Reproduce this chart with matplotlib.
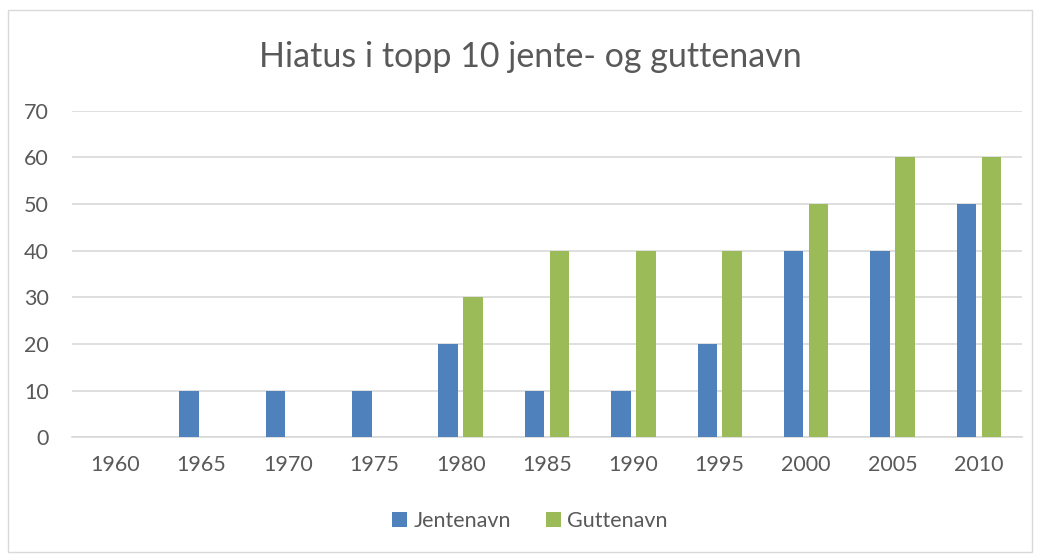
import numpy as np
import matplotlib.pyplot as plt
from matplotlib.patches import Rectangle

years = ['1960', '1965', '1970', '1975', '1980', '1985', '1990', '1995', '2000', '2005', '2010']
jentenavn = [0, 10, 10, 10, 20, 10, 10, 20, 40, 40, 50]
guttenavn = [0, 0, 0, 0, 30, 40, 40, 40, 50, 60, 60]

plt.rcParams['font.family'] = ['Lato', 'DejaVu Sans']
text_col = '#595959'
grid_col = '#D9D9D9'

fig = plt.figure(figsize=(10.4, 5.54), dpi=100)
W, H = 1040, 554
ax = fig.add_axes([72 / W, 1 - 437.3 / H, (1022 - 72) / W, (437.3 - 110.7) / H])

x = np.arange(len(years))
off = 0.144
bw = 0.225
ax.bar(x - off, jentenavn, bw, color='#4F81BD', label='Jentenavn', zorder=3)
ax.bar(x + off, guttenavn, bw, color='#9BBB59', label='Guttenavn', zorder=3)

ax.set_xlim(-0.5, len(years) - 0.5)
ax.set_ylim(0, 70)
ax.set_yticks(range(0, 71, 10))
ax.set_xticks(x)
ax.set_xticklabels(years)
ax.grid(axis='y', color=grid_col, linewidth=1.2, zorder=0)
for s in ['top', 'right', 'left']:
    ax.spines[s].set_visible(False)
ax.spines['bottom'].set_color(grid_col)
ax.spines['bottom'].set_linewidth(1.2)
ax.tick_params(length=0, labelsize=15.5, colors=text_col)
ax.tick_params(axis='x', pad=13)
ax.tick_params(axis='y', pad=16.5)

fig.text(530 / W, 1 - 57 / H, 'Hiatus i topp 10 jente- og guttenavn',
         ha='center', va='center', fontsize=24.5, color=text_col)

fig.legend(loc='center', bbox_to_anchor=(530 / W, 1 - 521 / H), ncol=2, frameon=False,
           fontsize=15.5, labelcolor=text_col, handlelength=0.7, handleheight=0.7,
           handletextpad=0.3, columnspacing=1.6)

fig.patches.append(Rectangle((8 / W, 1 - 552 / H), 1024 / W, 542 / H, transform=fig.transFigure,
                             fill=False, edgecolor='#D9D9D9', linewidth=1))

fig.savefig('out.png', dpi=100)
